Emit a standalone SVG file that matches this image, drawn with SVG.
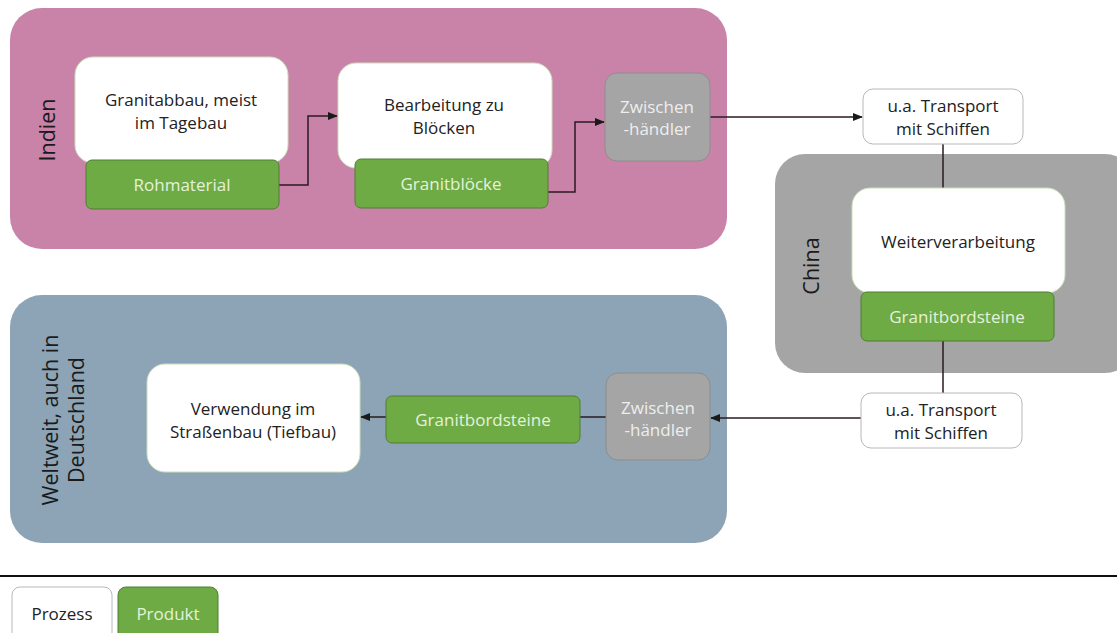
<svg xmlns="http://www.w3.org/2000/svg" width="1117" height="633" viewBox="0 0 1117 633">
<defs>
<style>
text{font-family:"Open Sans","Noto Sans","Liberation Sans",sans-serif;font-size:17px;text-anchor:middle}
.proc{fill:#ffffff;stroke:#c9dfb8;stroke-width:1}
.prod{fill:#6eab45;stroke:#4f7f31;stroke-width:1}
.prodt{fill:#e4f2da}
.trade{fill:#a5a5a5;stroke:#8d8d8d;stroke-width:1}
.tradet{fill:#eeeeee}
.trans{fill:#ffffff;stroke:#b8b8b8;stroke-width:1}
.dark{fill:#222222}
.region{font-size:21.5px;fill:#1a1a1a}
.conn{fill:none;stroke:#2a1a22;stroke-width:1.5}
</style>
<marker id="arr" markerWidth="10" markerHeight="8" refX="9" refY="4" orient="auto" markerUnits="userSpaceOnUse">
<path d="M0,0 L10,4 L0,8 Z" fill="#1a1a1a"/>
</marker>
</defs>
<rect width="1117" height="633" fill="#ffffff"/>

<g id="region-indien">
<rect x="10" y="8" width="717" height="241" rx="32" fill="#c983a8"/>
<text class="region" transform="translate(55,130) rotate(-90)">Indien</text>
</g>
<g id="region-china">
<rect x="775" y="154" width="360" height="219" rx="30" fill="#a5a5a5"/>
<text class="region" transform="translate(819,266) rotate(-90)">China</text>
</g>
<g id="region-welt">
<rect x="10" y="295" width="717" height="248" rx="32" fill="#8ca4b5"/>
<text class="region" transform="translate(58,420) rotate(-90)">Weltweit, auch in</text>
<text class="region" transform="translate(84,420) rotate(-90)">Deutschland</text>
</g>

<g id="connectors">
<path class="conn" d="M279,185 H308 V116 H337" marker-end="url(#arr)"/>
<path class="conn" d="M548,192 H575 V122 H604" marker-end="url(#arr)"/>
<path class="conn" d="M710,117 H862" marker-end="url(#arr)"/>
<path class="conn" d="M943,144 V188"/>
<path class="conn" d="M943,341 V393"/>
<path class="conn" d="M861,418 H711" marker-end="url(#arr)"/>
<path class="conn" d="M606,417 H580"/>
<path class="conn" d="M386,417 H361" marker-end="url(#arr)"/>
</g>

<g id="n-granitabbau">
<rect class="proc" x="75" y="57" width="213" height="106" rx="18"/>
<text class="dark" x="181" y="106">Granitabbau, meist</text>
<text class="dark" x="181" y="129">im Tagebau</text>
</g>
<g id="n-rohmaterial">
<rect class="prod" x="86" y="160" width="193" height="49" rx="6"/>
<text class="prodt" x="182" y="191">Rohmaterial</text>
</g>
<g id="n-bearbeitung">
<rect class="proc" x="338" y="63" width="214" height="105" rx="18"/>
<text class="dark" x="444" y="111">Bearbeitung zu</text>
<text class="dark" x="444" y="134">Blöcken</text>
</g>
<g id="n-granitbloecke">
<rect class="prod" x="355" y="159" width="193" height="49" rx="6"/>
<text class="prodt" x="451" y="190">Granitblöcke</text>
</g>
<g id="n-zwischen1">
<rect class="trade" x="605" y="73" width="105" height="88" rx="12"/>
<text class="tradet" x="657" y="113">Zwischen</text>
<text class="tradet" x="657" y="135">-händler</text>
</g>
<g id="n-transport1">
<rect class="trans" x="863" y="89" width="160" height="55" rx="10"/>
<text class="dark" x="943" y="112">u.a. Transport</text>
<text class="dark" x="943" y="135">mit Schiffen</text>
</g>
<g id="n-weiter">
<rect class="proc" x="852" y="188" width="213" height="105" rx="18"/>
<text class="dark" x="958" y="248">Weiterverarbeitung</text>
</g>
<g id="n-bord1">
<rect class="prod" x="861" y="292" width="193" height="49" rx="6"/>
<text class="prodt" x="957" y="323">Granitbordsteine</text>
</g>
<g id="n-transport2">
<rect class="trans" x="861" y="393" width="161" height="55" rx="10"/>
<text class="dark" x="941" y="416">u.a. Transport</text>
<text class="dark" x="941" y="439">mit Schiffen</text>
</g>
<g id="n-zwischen2">
<rect class="trade" x="606" y="373" width="104" height="87" rx="12"/>
<text class="tradet" x="658" y="414">Zwischen</text>
<text class="tradet" x="658" y="436">-händler</text>
</g>
<g id="n-bord2">
<rect class="prod" x="386" y="396" width="194" height="47" rx="6"/>
<text class="prodt" x="483" y="426">Granitbordsteine</text>
</g>
<g id="n-verwendung">
<rect class="proc" x="147" y="364" width="213" height="108" rx="18"/>
<text class="dark" x="253" y="415">Verwendung  im</text>
<text class="dark" x="253" y="438">Straßenbau (Tiefbau)</text>
</g>

<g id="legend">
<line x1="0" y1="576" x2="1117" y2="576" stroke="#111111" stroke-width="2"/>
<rect class="trans" x="12" y="587" width="100" height="55" rx="8"/>
<text class="dark" x="62" y="620">Prozess</text>
<rect class="prod" x="118" y="587" width="100" height="55" rx="8"/>
<text class="prodt" x="168" y="620">Produkt</text>
</g>
</svg>
